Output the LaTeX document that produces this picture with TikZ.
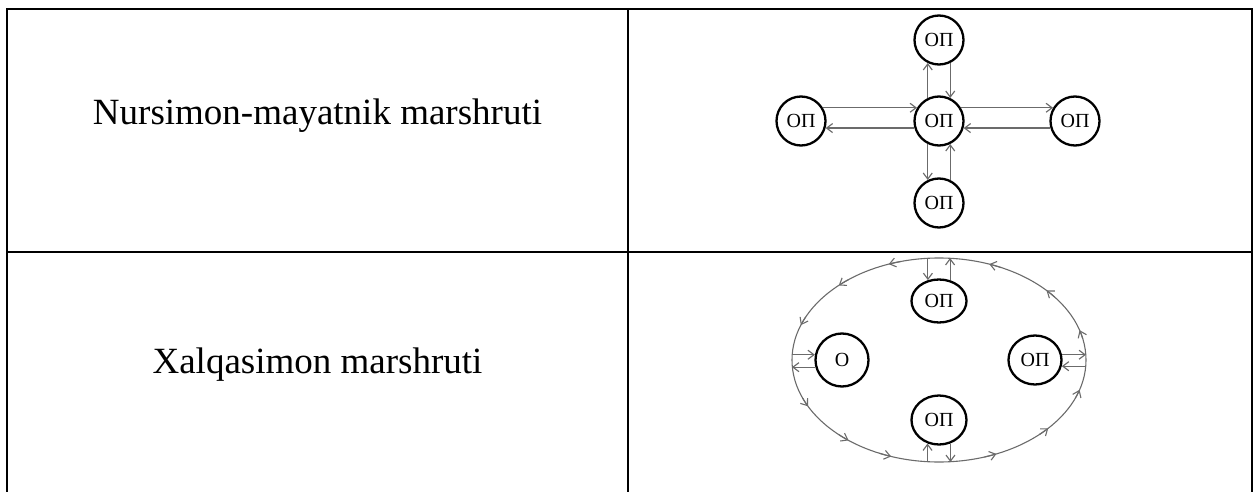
\documentclass[tikz,border=0pt]{standalone}
\usepackage{fontspec}
\setmainfont{Liberation Serif}
\usetikzlibrary{arrows.meta,shapes.geometric,calc}
\begin{document}
\begin{tikzpicture}[x=1pt,y=1pt,
  tline/.style={line width=1.7pt,black},
  nd/.style={draw=black,line width=2.3pt,ellipse,inner sep=0pt,fill=white,font=\fontsize{20}{20}\selectfont},
  sn/.style={nd,circle,minimum size=49pt},
  tipb/.style={-{Straight Barb[length=6pt,width=9pt]}},
  conn/.style={draw=black!58,line width=1.15pt,tipb},
  ringline/.style={draw=black!58,line width=1.1pt},
  lbl/.style={font=\fontsize{37}{37}\selectfont,anchor=base,inner sep=0pt}]
\useasboundingbox (0,0) rectangle (1259,-492);
% table
\draw[tline] (7,-495) -- (7,-9) -- (1252,-9) -- (1252,-495);
\draw[tline] (7,-252) -- (1252,-252);
\draw[tline] (628,-9) -- (628,-495);
% labels
\node[lbl] (t1) at (317.5,-125) {Nursimon-mayatnik marshruti};
\node[lbl] (t2) at (317.5,-373) {Xalqasimon marshruti};
% star (pendulum) scheme
\node[sn] (C) at (939,-121) {ОП};
\node[sn] (T) at (939,-40) {ОП};
\node[sn] (B) at (939,-203) {ОП};
\node[sn] (L) at (801,-121) {ОП};
\node[sn] (R) at (1075,-121) {ОП};
\draw[conn] (C.116) -- (T.244);
\draw[conn] (T.296) -- (C.64);
\draw[conn] (L.31) -- (C.149);
\draw[conn] (C.196) -- (L.344);
\draw[conn] (C.31) -- (R.149);
\draw[conn] (R.196) -- (C.344);
\draw[conn] (C.244) -- (B.116);
\draw[conn] (B.64) -- (C.296);
% ring scheme
\coordinate (RC) at (939,-360);
\draw[ringline] (RC) ellipse [x radius=147, y radius=102];
\foreach \a in {17,43,70,110,133,160,207,232,251,293,318,343}
  \draw[ringline,tipb] ($(RC)+({147*cos(\a-5)},{102*sin(\a-5)})$)
    arc[start angle=\a-5, end angle=\a, x radius=147, y radius=102];
\node[nd,minimum width=55pt,minimum height=43pt] (TT) at (939,-301) {ОП};
\node[nd,circle,minimum size=53pt] (O) at (842,-360) {О};
\node[nd,minimum width=53pt,minimum height=49pt] (RR) at (1035,-360) {ОП};
\node[nd,minimum width=55pt,minimum height=49pt] (BB) at (939,-420) {ОП};
\coordinate (rN) at (939,-258);
\coordinate (rS) at (939,-462);
\coordinate (rW) at (792,-360);
\coordinate (rE) at (1086,-360);
\draw[conn] (TT.118 |- rN) -- (TT.118);
\draw[conn] (TT.62) -- (TT.62 |- rN);
\draw[conn] (BB.244 |- rS) -- (BB.244);
\draw[conn] (BB.296) -- (BB.296 |- rS);
\draw[conn] (O.169 -| rW) -- (O.169);
\draw[conn] (O.195) -- (O.195 -| rW);
\draw[conn] (RR.347 -| rE) -- (RR.347);
\draw[conn] (RR.11) -- (RR.11 -| rE);
\end{tikzpicture}
\end{document}
